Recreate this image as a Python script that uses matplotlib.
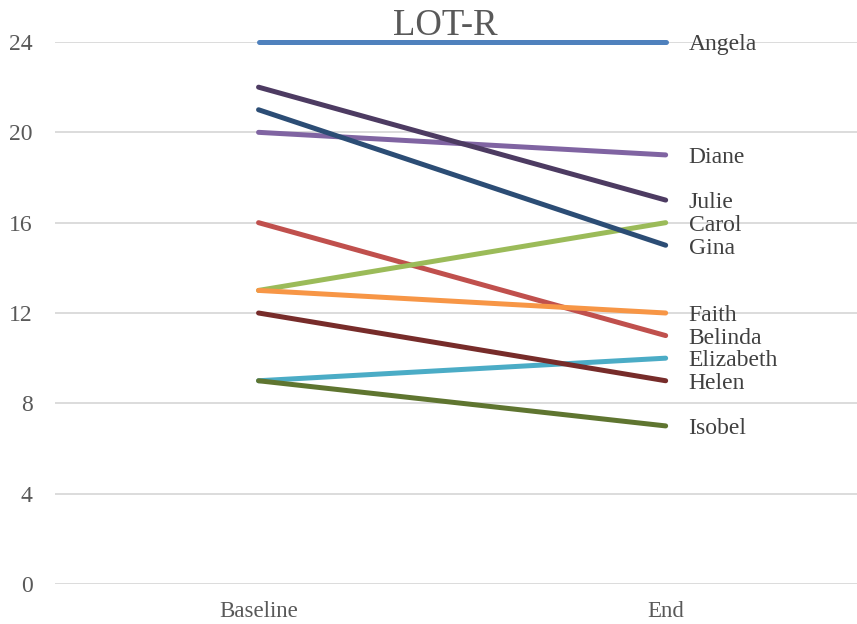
import matplotlib.pyplot as plt

plt.rcParams['font.family'] = ['Liberation Serif', 'DejaVu Serif']

# data
names = ["Angela", "Belinda", "Carol", "Diane", "Elizabeth",
         "Faith", "Gina", "Helen", "Isobel", "Julie"]
baseline = [24, 16, 13, 20, 9, 13, 21, 12, 9, 22]
end = [24, 11, 16, 19, 10, 12, 15, 9, 7, 17]
periods = ["Baseline", "End"]
colors = ["#4F81BD", "#C0504D", "#9BBB59", "#8064A2", "#4BACC6",
          "#F79646", "#2C4D75", "#772C2A", "#5F7530", "#4D3B62"]

fig = plt.figure(figsize=(8.57, 6.24), dpi=100)
ax = fig.add_axes([55 / 857, 1 - 584 / 624, 1 - 55 / 857, (584 - 42) / 624])

xs = [0, 1]
for name, b, e, c in zip(names, baseline, end, colors):
    ax.plot(xs, [b, e], color=c, lw=3.6, solid_capstyle='round', clip_on=False, zorder=3)
    ax.annotate(name, xy=(1, e), xytext=(16.5, -2), textcoords='offset points',
                va='center', ha='left', fontsize=17, color='#404040')

ax.set_xlim(-0.5, 1.47)
ax.set_ylim(0, 24)
ax.set_yticks(range(0, 25, 4))
ax.set_xticks(xs)
ax.set_xticklabels(periods)
ax.grid(axis='y', color='#D9D9D9', lw=1.3)
ax.set_axisbelow(True)
for s in ax.spines.values():
    s.set_visible(False)
ax.tick_params(length=0, labelsize=17, labelcolor='#595959')
ax.tick_params(axis='y', pad=16)
ax.tick_params(axis='x', pad=12, labelsize=16.5)

fig.text(445 / 857, 1 - 26 / 624, "LOT-R", ha='center', va='center', fontsize=26.5, color='#595959')

fig.savefig("out.png", dpi=100)
